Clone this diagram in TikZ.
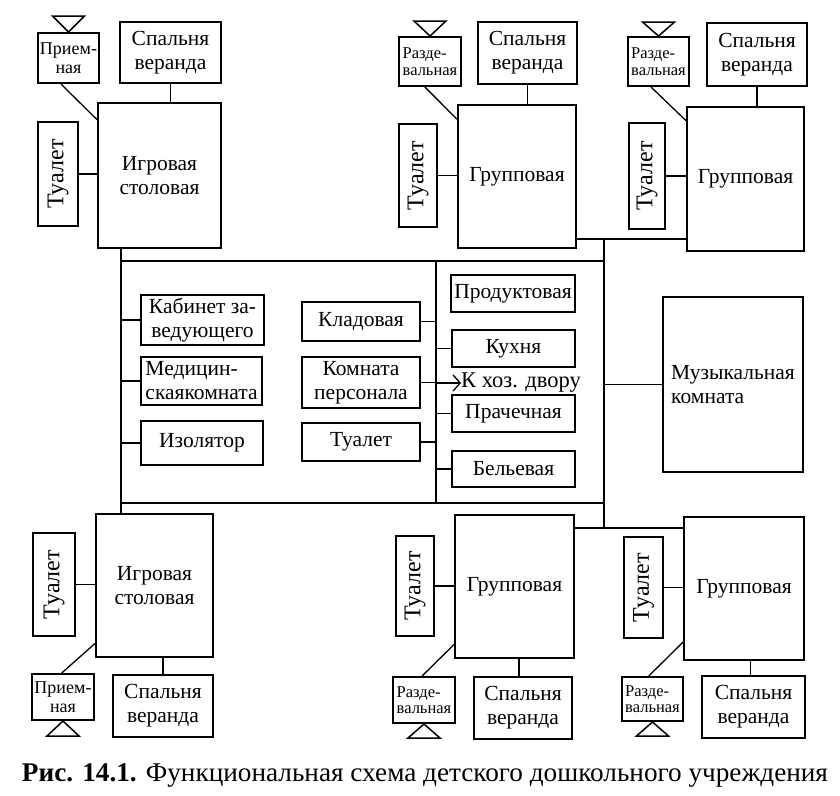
\documentclass[tikz,border=0pt]{standalone}
\usepackage{fontspec}
\usepackage{graphicx}
\setmainfont{Liberation Serif}
\usetikzlibrary{arrows.meta,calc}
\tikzset{
  room/.style={draw, line width=2pt, inner sep=0pt, align=center,
    font=\fontsize{21.5}{24}\selectfont},
  smallroom/.style={room, font=\fontsize{18}{18.5}\selectfont},
  tinyroom/.style={room, align=left, font=\fontsize{16.5}{16.5}\selectfont},
  conn/.style={line width=1.3pt},
  tri/.style={line width=1.5pt},
  sz/.style 2 args={minimum width=#1pt, minimum height=#2pt}
}
\newcommand{\vtext}[1]{\rotatebox{90}{\fontsize{24}{24}\selectfont #1}}
\begin{document}
\begin{tikzpicture}[x=1pt,y=-1pt]
\useasboundingbox (0,0) rectangle (840,795);
\fill[white] (0,0) rectangle (840,795);

% ---------- top-left cluster ----------
\node[smallroom, sz={61}{50}] (tlP) at (68.5,58) {Прием-\\ная};
\node[room, sz={101}{61}] (tlS) at (170.5,52.5) {Спальня\\веранда};
\node[room, sz={123}{145}] (tlG) at (159.5,175.5) {Игровая\\столовая};
\node[room, sz={40}{104}] (tlT) at (58,174) {\vtext{Туалет}};
\draw[tri] (tlP.north) -- ++(-16,-16) -- ++(32,0) -- cycle;
\draw[conn] (tlT.east) -- (tlT.east -| tlG.west);
\draw[conn] (tlS.south) -- (tlS.south |- tlG.north);
\draw[conn] ($(tlP.south west)!0.38!(tlP.south east)$) -- ($(tlG.north west)!0.12!(tlG.south west)$);

% ---------- top-right cluster 1 ----------
\node[tinyroom, sz={62}{49}] (r1P) at (430,61.5) {Разде-\\вальная};
\node[room, sz={99}{62}] (r1S) at (527.5,53) {Спальня\\веранда};
\node[room, sz={118}{143}] (r1G) at (517,176.5) {Групповая};
\node[room, sz={38}{103}] (r1T) at (418,175.5) {\vtext{Туалет}};
\draw[tri] (r1P.north) -- ++(-16,-15) -- ++(32,0) -- cycle;
\draw[conn] (r1T.east) -- (r1T.east -| r1G.west);
\draw[conn] (r1S.south) -- (r1S.south |- r1G.north);
\draw[conn] ($(r1P.south west)!0.42!(r1P.south east)$) -- ($(r1G.north west)!0.105!(r1G.south west)$);

% ---------- top-right cluster 2 ----------
\node[tinyroom, sz={61}{49}] (r2P) at (658.5,61.5) {Разде-\\вальная};
\node[room, sz={100}{63}] (r2S) at (757,54.5) {Спальня\\веранда};
\node[room, sz={117}{144}] (r2G) at (745.5,179) {Групповая};
\node[room, sz={36}{106}] (r2T) at (647,176) {\vtext{Туалет}};
\draw[tri] (r2P.north) -- ++(-16,-14) -- ++(32,0) -- cycle;
\draw[conn] (r2T.east) -- (r2T.east -| r2G.west);
\draw[conn] (r2S.south) -- (r2S.south |- r2G.north);
\draw[conn] ($(r2P.south west)!0.38!(r2P.south east)$) -- ($(r2G.north west)!0.10!(r2G.south west)$);

% ---------- bottom-left cluster ----------
\node[room, sz={117}{143}] (blG) at (154.5,585.5) {Игровая\\столовая};
\node[room, sz={42}{103}] (blT) at (54,584.5) {\vtext{Туалет}};
\node[smallroom, sz={62}{46}] (blP) at (63,697) {Прием-\\ная};
\node[room, sz={100}{62}] (blS) at (163,706) {Спальня\\веранда};
\draw[tri] (blP.south) -- ++(-16,15) -- ++(32,0) -- cycle;
\draw[conn] (blT.east) -- (blT.east -| blG.west);
\draw[conn] (blS.north) -- (blS.north |- blG.south);
\draw[conn] ($(blP.north west)!0.48!(blP.north east)$) -- ($(blG.north west)!0.9!(blG.south west)$);

% ---------- bottom-right cluster 1 ----------
\node[room, sz={119}{143}] (b1G) at (514.5,586.5) {Групповая};
\node[room, sz={38}{100}] (b1T) at (415,586) {\vtext{Туалет}};
\node[tinyroom, sz={62}{46}] (b1P) at (424,700) {Разде-\\вальная};
\node[room, sz={98}{62}] (b1S) at (523,708) {Спальня\\веранда};
\draw[tri] (b1P.south) -- ++(-16,14) -- ++(32,0) -- cycle;
\draw[conn] (b1T.east) -- (b1T.east -| b1G.west);
\draw[conn] ($(b1S.north)+(-4,0)$) -- ($(b1S.north |- b1G.south)+(-4,0)$);
\draw[conn] ($(b1P.north west)!0.47!(b1P.north east)$) -- ($(b1G.north west)!0.9!(b1G.south west)$);

% ---------- bottom-right cluster 2 ----------
\node[room, sz={120}{143}] (b2G) at (744,588.5) {Групповая};
\node[room, sz={39}{101}] (b2T) at (643.5,587.5) {\vtext{Туалет}};
\node[tinyroom, sz={61}{44}] (b2P) at (652.5,699) {Разде-\\вальная};
\node[room, sz={103}{62}] (b2S) at (753.5,707) {Спальня\\веранда};
\draw[tri] (b2P.south) -- ++(-16,14) -- ++(32,0) -- cycle;
\draw[conn] (b2T.east) -- (b2T.east -| b2G.west);
\draw[conn] ($(b2S.north)+(-3,0)$) -- ($(b2S.north |- b2G.south)+(-3,0)$);
\draw[conn] ($(b2P.north west)!0.44!(b2P.north east)$) -- ($(b2G.north west)!0.87!(b2G.south west)$);

% ---------- central block ----------
\coordinate (fTL) at (121,261);
\coordinate (fTR) at (604,261);
\coordinate (fBL) at (121,503);
\coordinate (fBR) at (604,503);
\coordinate (dvT) at (436,261);
\coordinate (dvB) at (436,503);
\coordinate (jT) at (604,239);
\coordinate (jB) at (604,528);

\node[room, sz={123}{50}] (kab) at (202.5,320) {Кабинет за-\\ведующего};
\node[room, align=left, sz={121}{48}] (med) at (201.5,381) {Медицин-\\скаякомната};
\node[room, sz={122}{44}] (izo) at (202,443) {Изолятор};
\node[room, sz={118}{39}] (klad) at (361,321.5) {Кладовая};
\node[room, sz={118}{51}] (kom) at (361,382.5) {Комната\\персонала};
\node[room, sz={118}{38}] (tua) at (361,442) {Туалет};
\node[room, sz={124}{37}] (prod) at (513,293.5) {Продуктовая};
\node[room, sz={123}{37}] (kuh) at (513.5,348.5) {Кухня};
\node[room, sz={123}{37}] (prach) at (513.5,413.5) {Прачечная};
\node[room, sz={123}{36}] (bel) at (513.5,469) {Бельевая};
\node[room, align=left, sz={140}{175}] (mus) at (733,384.5) {Музыкальная\\комната};
\node[font=\fontsize{22.5}{24}\selectfont, inner sep=0pt, anchor=west] (hoz) at (461,383) {К хоз. двору};

\draw[conn] (tlG.south -| fTL) -- (blG.north -| fTL);
\draw[conn] (fTL) -- (fTR);
\draw[conn] (fBL) -- (fBR);
\draw[conn] (dvT) -- (dvB);
\draw[conn] (jT) -- (jB);
\draw[conn] (r1G.east |- jT) -- (r2G.west |- jT);
\draw[conn] (b1G.east |- jB) -- (b2G.west |- jB);
\draw[conn] (mus.west) -- (mus.west -| jT);

\draw[conn] (kab.west) -- (kab.west -| fTL);
\draw[conn] (med.west) -- (med.west -| fTL);
\draw[conn] (izo.west) -- (izo.west -| fTL);
\draw[conn] (klad.east) -- (klad.east -| dvT);
\draw[conn] (kom.east) -- (kom.east -| dvT);
\draw[conn] (tua.east) -- (tua.east -| dvT);
\draw[conn] (kuh.west) -- (kuh.west -| dvT);
\draw[conn] (prach.west) -- (prach.west -| dvT);
\draw[conn] (bel.west) -- (bel.west -| dvT);
\draw[conn, -{Straight Barb[length=7pt,width=16pt]}] (hoz.west -| dvT) -- (hoz.west);

% ---------- caption ----------
\node[inner sep=0pt, font=\fontsize{27}{30}\selectfont] (cap) at (425,775)
  {\resizebox{806pt}{\height}{\textbf{Рис. 14.1.} Функциональная схема детского дошкольного учреждения}};
\end{tikzpicture}
\end{document}
